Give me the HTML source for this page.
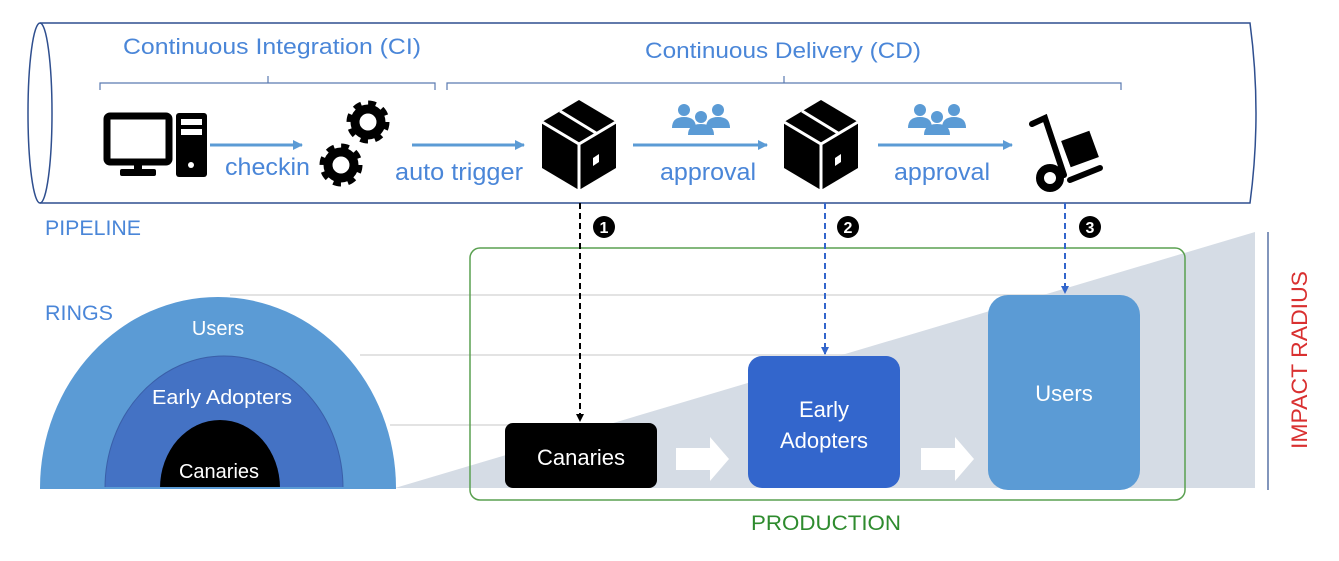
<!DOCTYPE html>
<html><head><meta charset="utf-8"><style>
html,body{margin:0;padding:0;background:#fff;}
svg{display:block;}
text{font-family:"Liberation Sans",sans-serif;}
</style></head><body>
<svg width="1339" height="561" viewBox="0 0 1339 561" xmlns="http://www.w3.org/2000/svg">
<defs>
<marker id="ab" markerWidth="10" markerHeight="10" refX="9" refY="5" orient="auto" markerUnits="userSpaceOnUse"><path d="M0,0 L10,5 L0,10z" fill="#5b9bd5"/></marker>
<marker id="dk" markerWidth="8" markerHeight="8" refX="7" refY="4" orient="auto" markerUnits="userSpaceOnUse"><path d="M0,0 L8,4 L0,8z" fill="#000"/></marker>
<marker id="db" markerWidth="8" markerHeight="8" refX="7" refY="4" orient="auto" markerUnits="userSpaceOnUse"><path d="M0,0 L8,4 L0,8z" fill="#3366cc"/></marker>
<g id="box">
<path d="M-37,22 L0,0 L37,22 L37,68 L0,90 L-37,68z" fill="#000"/>
<path d="M-37,22 L0,44 L37,22 M0,44 L0,90" stroke="#fff" stroke-width="3" fill="none"/>
<path d="M-19,11 L17,33" stroke="#fff" stroke-width="3"/>
<path d="M14,58 L20,54 L20,62 L14,66z" fill="#fff"/>
</g>
<g id="ppl" fill="#5b9bd5">
<circle cx="-17" cy="-10" r="6"/><path d="M-29,8 Q-29,-3 -17,-3 Q-5,-3 -5,8z"/>
<circle cx="17" cy="-10" r="6"/><path d="M5,8 Q5,-3 17,-3 Q29,-3 29,8z"/>
<circle cx="0" cy="-3" r="6"/><path d="M-13,15 Q-13,4 0,4 Q13,4 13,15z"/>
</g>
<g id="gear">
<circle r="17" fill="none" stroke="#000" stroke-width="9" stroke-dasharray="7 6.35"/>
<circle r="13" fill="none" stroke="#000" stroke-width="9"/>
</g>
</defs>

<path d="M40,23 L1250,23 Q1262,113 1250,203 L40,203" fill="none" stroke="#2f4f8f" stroke-width="1.5"/>
<ellipse cx="40" cy="113" rx="12" ry="90" fill="none" stroke="#2f4f8f" stroke-width="1.5"/>

<text x="123" y="54" font-size="22" fill="#4a86d8" textLength="298" lengthAdjust="spacingAndGlyphs">Continuous Integration (CI)</text>
<text x="645" y="58" font-size="22" fill="#4a86d8" textLength="276" lengthAdjust="spacingAndGlyphs">Continuous Delivery (CD)</text>
<path d="M100,90 L100,83 L435,83 L435,90 M268,83 L268,76" fill="none" stroke="#5a7ab0" stroke-width="1.2"/>
<path d="M447,90 L447,83 L1121,83 L1121,90 M784,83 L784,76" fill="none" stroke="#5a7ab0" stroke-width="1.2"/>

<rect x="107" y="116" width="62" height="46" rx="3" fill="none" stroke="#000" stroke-width="7"/>
<rect x="134" y="162" width="8" height="8" fill="#000"/>
<rect x="120" y="169" width="36" height="7" rx="2" fill="#000"/>
<rect x="176" y="113" width="31" height="64" rx="3" fill="#000"/>
<rect x="181" y="119" width="21" height="6" fill="#fff"/>
<rect x="181" y="129" width="21" height="6" fill="#fff"/>
<circle cx="191" cy="165" r="3" fill="#fff"/>

<line x1="210" y1="145" x2="302" y2="145" stroke="#5b9bd5" stroke-width="3" marker-end="url(#ab)"/>
<text x="225" y="175" font-size="24" fill="#4a86d8" textLength="85" lengthAdjust="spacingAndGlyphs">checkin</text>
<use href="#gear" x="368" y="122"/>
<use href="#gear" x="341" y="165"/>
<line x1="412" y1="145" x2="524" y2="145" stroke="#5b9bd5" stroke-width="3" marker-end="url(#ab)"/>
<text x="395" y="180" font-size="24" fill="#4a86d8" textLength="128" lengthAdjust="spacingAndGlyphs">auto trigger</text>
<use href="#box" x="579" y="100"/>
<use href="#ppl" x="701" y="120"/>
<line x1="633" y1="145" x2="767" y2="145" stroke="#5b9bd5" stroke-width="3" marker-end="url(#ab)"/>
<text x="660" y="180" font-size="24" fill="#4a86d8" textLength="96" lengthAdjust="spacingAndGlyphs">approval</text>
<use href="#box" x="821" y="100"/>
<use href="#ppl" x="937" y="120"/>
<line x1="878" y1="145" x2="1012" y2="145" stroke="#5b9bd5" stroke-width="3" marker-end="url(#ab)"/>
<text x="894" y="180" font-size="24" fill="#4a86d8" textLength="96" lengthAdjust="spacingAndGlyphs">approval</text>

<g fill="#000" stroke="#000">
<path d="M1032,124 L1045,118 L1064,175" fill="none" stroke-width="6" stroke-linecap="round"/>
<rect x="1065" y="135" width="30" height="28" transform="rotate(-20 1080 149)" stroke="none"/>
<path d="M1070,180 L1100,168" stroke-width="6" stroke-linecap="round"/>
<circle cx="1050" cy="178" r="10" fill="none" stroke-width="8"/>
</g>

<text x="45" y="235" font-size="21" fill="#4a86d8" textLength="96" lengthAdjust="spacingAndGlyphs">PIPELINE</text>
<text x="45" y="320" font-size="21" fill="#4a86d8" textLength="68" lengthAdjust="spacingAndGlyphs">RINGS</text>

<line x1="230" y1="295" x2="1255" y2="295" stroke="#e3e3e3" stroke-width="2"/>
<line x1="360" y1="355" x2="1255" y2="355" stroke="#e3e3e3" stroke-width="2"/>
<line x1="390" y1="425" x2="1255" y2="425" stroke="#e3e3e3" stroke-width="2"/>
<path d="M395,488 L1255,232 L1255,488z" fill="#d5dce5"/>
<line x1="1268" y1="232" x2="1268" y2="490" stroke="#2f4f8f" stroke-width="1.2"/>
<text transform="translate(1307,360) rotate(-90)" font-size="22" fill="#d93030" text-anchor="middle" textLength="178" lengthAdjust="spacingAndGlyphs">IMPACT RADIUS</text>

<path d="M40,488 A178,191 0 0 1 396,488z" fill="#5b9bd5"/>
<path d="M105,488 A119,132 0 0 1 343,488z" fill="#4472c4" stroke="#3a5fa8" stroke-width="1"/>
<path d="M160,488 A60,68 0 0 1 280,488z" fill="#000"/>
<line x1="40" y1="488" x2="396" y2="488" stroke="#5b9bd5" stroke-width="2"/>
<text x="218" y="335" font-size="20" fill="#fff" text-anchor="middle">Users</text>
<text x="222" y="404" font-size="20" fill="#fff" text-anchor="middle" textLength="140" lengthAdjust="spacingAndGlyphs">Early Adopters</text>
<text x="219" y="478" font-size="20" fill="#fff" text-anchor="middle">Canaries</text>

<rect x="470" y="248" width="715" height="252" rx="10" fill="none" stroke="#5aa050" stroke-width="1.5"/>
<text x="826" y="530" font-size="21" fill="#2e8b2e" text-anchor="middle" textLength="150" lengthAdjust="spacingAndGlyphs">PRODUCTION</text>
<rect x="505" y="423" width="152" height="65" rx="8" fill="#000"/>
<text x="581" y="465" font-size="22" fill="#fff" text-anchor="middle">Canaries</text>
<rect x="748" y="356" width="152" height="132" rx="14" fill="#3366cc"/>
<text x="824" y="417" font-size="22" fill="#fff" text-anchor="middle">Early</text>
<text x="824" y="448" font-size="22" fill="#fff" text-anchor="middle">Adopters</text>
<rect x="988" y="295" width="152" height="195" rx="20" fill="#5b9bd5"/>
<text x="1064" y="401" font-size="22" fill="#fff" text-anchor="middle">Users</text>
<path d="M676,448 L710,448 L710,437 L729,459 L710,481 L710,470 L676,470z" fill="#fff"/>
<path d="M921,448 L955,448 L955,437 L974,459 L955,481 L955,470 L921,470z" fill="#fff"/>

<line x1="580" y1="203" x2="580" y2="421" stroke="#000" stroke-width="2" stroke-dasharray="6 4" marker-end="url(#dk)"/>
<line x1="825" y1="203" x2="825" y2="354" stroke="#3366cc" stroke-width="2" stroke-dasharray="6 4" marker-end="url(#db)"/>
<line x1="1065" y1="203" x2="1065" y2="293" stroke="#3366cc" stroke-width="2" stroke-dasharray="6 4" marker-end="url(#db)"/>
<g font-size="16" font-weight="bold" text-anchor="middle" fill="#fff">
<circle cx="604" cy="227" r="11" fill="#000"/><text x="604" y="233">1</text>
<circle cx="848" cy="227" r="11" fill="#000"/><text x="848" y="233">2</text>
<circle cx="1090" cy="227" r="11" fill="#000"/><text x="1090" y="233">3</text>
</g>
</svg>
</body></html>
